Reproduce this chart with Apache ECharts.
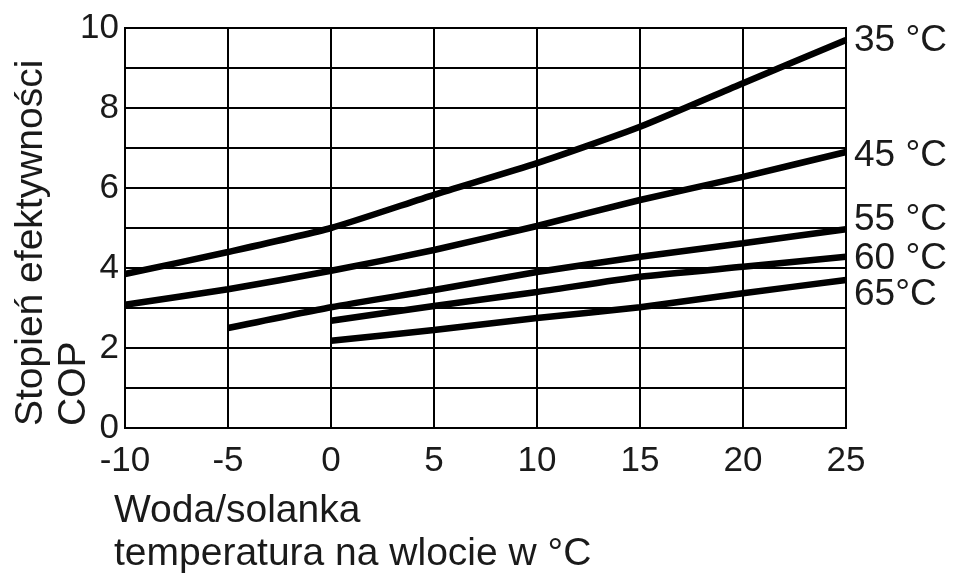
<!DOCTYPE html>
<html>
<head>
<meta charset="utf-8">
<script src="https://cdn.jsdelivr.net/npm/echarts@6/dist/echarts.min.js"></script>
<style>
  html, body { margin: 0; padding: 0; background: #fff; }
  #chart { width: 959px; height: 574px; }
</style>
</head>
<body>
<div id="chart"></div>
<script>
// temperatura na wlocie (°C)
var xValues = [-10, -5, 0, 5, 10, 15, 20, 25];
// COP dla temperatur zasilania
var cop35 = [3.85, 4.4, 5.0, 5.83, 6.62, 7.53, 8.62, 9.7];
var cop45 = [3.08, 3.47, 3.93, 4.45, 5.05, 5.7, 6.28, 6.9];
var cop55 = [null, 2.5, 3.02, 3.45, 3.9, 4.28, 4.62, 4.97];
var cop60 = [null, null, 2.68, 3.05, 3.4, 3.78, 4.03, 4.28];
var cop65 = [null, null, 2.18, 2.45, 2.75, 3.02, 3.37, 3.7];
var seriesNames = ["35 °C", "45 °C", "55 °C", "60 °C", "65°C"];
var yTickLabels = ["0", "2", "4", "6", "8", "10"];

var font = "'Liberation Sans', Arial, sans-serif";
var textColor = "#1a1a1a";

function pairs(arr) {
  var out = [];
  arr.forEach(function (v, i) {
    if (v !== null) out.push([xValues[i], v]);
  });
  return out;
}

// przesunięcia etykiet przy końcach linii
var labelOffsets = [[0, 1], [0, 4], [0, -9], [0, 2], [0, 15]];

var allData = [cop35, cop45, cop55, cop60, cop65];
var series = allData.map(function (arr, i) {
  return {
    name: seriesNames[i],
    type: "line",
    data: pairs(arr),
    smooth: 0.2,
    showSymbol: false,
    lineStyle: { color: "#000", width: 6.5 },
    endLabel: {
      show: true,
      formatter: "{a}",
      distance: 8,
      offset: labelOffsets[i],
      color: textColor,
      fontFamily: font,
      fontSize: 37
    }
  };
});

var myChart = echarts.init(document.getElementById("chart"));
var option = {
  backgroundColor: "#fff",
  animation: false,
  grid: {
    left: 125,
    right: 113,
    top: 28,
    bottom: 146,
    show: true,
    borderColor: "#000",
    borderWidth: 2
  },
  xAxis: {
    type: "value",
    min: -10,
    max: 25,
    interval: 5,
    axisLine: { show: true, lineStyle: { color: "#000", width: 2 } },
    axisTick: { show: false },
    splitLine: { show: true, lineStyle: { color: "#000", width: 2 } },
    axisLabel: {
      color: textColor,
      fontFamily: font,
      fontSize: 35,
      margin: 16
    }
  },
  yAxis: {
    type: "value",
    min: 0,
    max: 10,
    interval: 1,
    axisLine: { show: true, lineStyle: { color: "#000", width: 2 } },
    axisTick: { show: false },
    splitLine: { show: true, lineStyle: { color: "#000", width: 2 } },
    axisLabel: {
      color: textColor,
      fontFamily: font,
      fontSize: 35,
      margin: 6,
      formatter: function (v) {
        return yTickLabels.indexOf(String(v)) >= 0 ? String(v) : "";
      }
    }
  },
  graphic: [
    {
      type: "text",
      x: 31, y: 426,
      rotation: Math.PI / 2,
      style: {
        text: "Stopień efektywności",
        fill: textColor, font: "39px " + font,
        textAlign: "left", textVerticalAlign: "middle"
      }
    },
    {
      type: "text",
      x: 74, y: 426,
      rotation: Math.PI / 2,
      style: {
        text: "COP",
        fill: textColor, font: "39px " + font,
        textAlign: "left", textVerticalAlign: "middle"
      }
    },
    {
      type: "text",
      x: 114, y: 511,
      style: {
        text: "Woda/solanka",
        fill: textColor, font: "39px " + font,
        textAlign: "left", textVerticalAlign: "middle"
      }
    },
    {
      type: "text",
      x: 114, y: 554,
      style: {
        text: "temperatura na wlocie w °C",
        fill: textColor, font: "39px " + font,
        textAlign: "left", textVerticalAlign: "middle"
      }
    }
  ],
  series: series
};

myChart.setOption(option);
</script>
</body>
</html>
